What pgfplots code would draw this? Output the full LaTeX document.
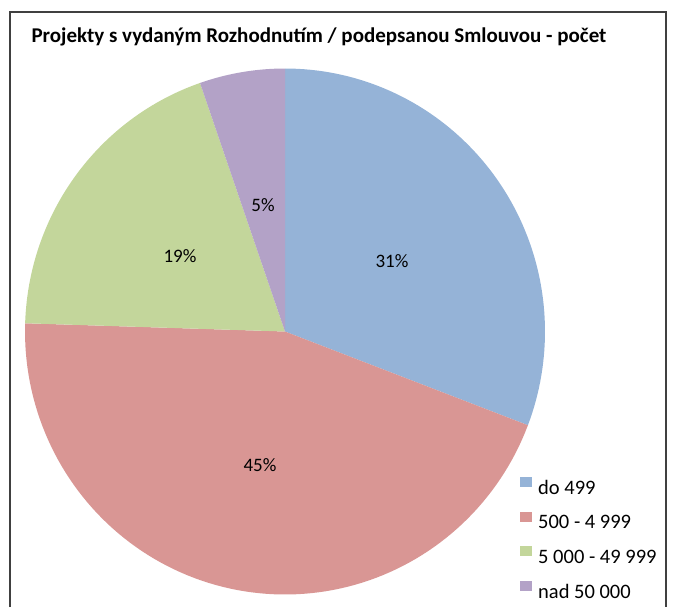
\documentclass[border=0pt]{standalone}
\usepackage{fontspec}
\setmainfont{Carlito}
\usepackage{pgfplots}
\pgfplotsset{compat=1.18}
\definecolor{cA}{HTML}{95B3D7}
\definecolor{cB}{HTML}{D99694}
\definecolor{cC}{HTML}{C3D69B}
\definecolor{cD}{HTML}{B3A2C7}
\definecolor{frame}{HTML}{404040}
\begin{document}
\begin{tikzpicture}
% shares in percent
\def\vA{30.8}\def\vB{44.7}\def\vC{19.2}\def\vD{5.3}
\pgfmathsetmacro{\aA}{0}
\pgfmathsetmacro{\aB}{3.6*\vA}
\pgfmathsetmacro{\aC}{3.6*(\vA+\vB)}
\pgfmathsetmacro{\aD}{3.6*(\vA+\vB+\vC)}
\pgfmathsetmacro{\aE}{3.6*(\vA+\vB+\vC+\vD)}
\begin{axis}[
  scale only axis, width=675pt, height=607pt,
  xmin=0, xmax=675, ymin=0, ymax=607, y dir=reverse,
  hide axis, clip=false,
  legend cell align=left,
  legend image code/.code={\fill[#1] (0pt,1pt) rectangle (12pt,11pt); \path (16pt,6pt);},
  legend style={at={(axis cs:517,475)}, anchor=north west, draw=none, fill=none,
    font=\fontsize{20.5}{24}\selectfont, row sep=14pt},
]
\path (axis cs:0,0) rectangle (axis cs:675,607);
\addplot[forget plot, draw=frame, line width=1.5pt] coordinates {(10,607) (10,12) (666,12) (666,607)};
\addplot[fill=cA, draw=none, domain=\aA:\aB, samples=80, variable=\t]
  ({285+260*sin(\t)},{331.5-263*cos(\t)}) -- (axis cs:285,331.5) -- cycle;
\addlegendentry{do 499}
\addplot[fill=cB, draw=none, domain=\aB:\aC, samples=100, variable=\t]
  ({285+260*sin(\t)},{331.5-263*cos(\t)}) -- (axis cs:285,331.5) -- cycle;
\addlegendentry{500 - 4 999}
\addplot[fill=cC, draw=none, domain=\aC:\aD, samples=60, variable=\t]
  ({285+260*sin(\t)},{331.5-263*cos(\t)}) -- (axis cs:285,331.5) -- cycle;
\addlegendentry{5 000 - 49 999}
\addplot[fill=cD, draw=none, domain=\aD:\aE, samples=30, variable=\t]
  ({285+260*sin(\t)},{331.5-263*cos(\t)}) -- (axis cs:285,331.5) -- cycle;
\addlegendentry{nad 50 000}
\node[font=\fontsize{19}{22}\selectfont] at (axis cs:392,261) {31\%};
\node[font=\fontsize{19}{22}\selectfont] at (axis cs:260,465) {45\%};
\node[font=\fontsize{19}{22}\selectfont] at (axis cs:180,256) {19\%};
\node[font=\fontsize{19}{22}\selectfont] at (axis cs:263,205) {5\%};
\node[anchor=base west, font=\bfseries\fontsize{21}{24}\selectfont] at (axis cs:28,42)
  {Projekty s vydaným Rozhodnutím / podepsanou Smlouvou - počet};
\end{axis}
\end{tikzpicture}
\end{document}
